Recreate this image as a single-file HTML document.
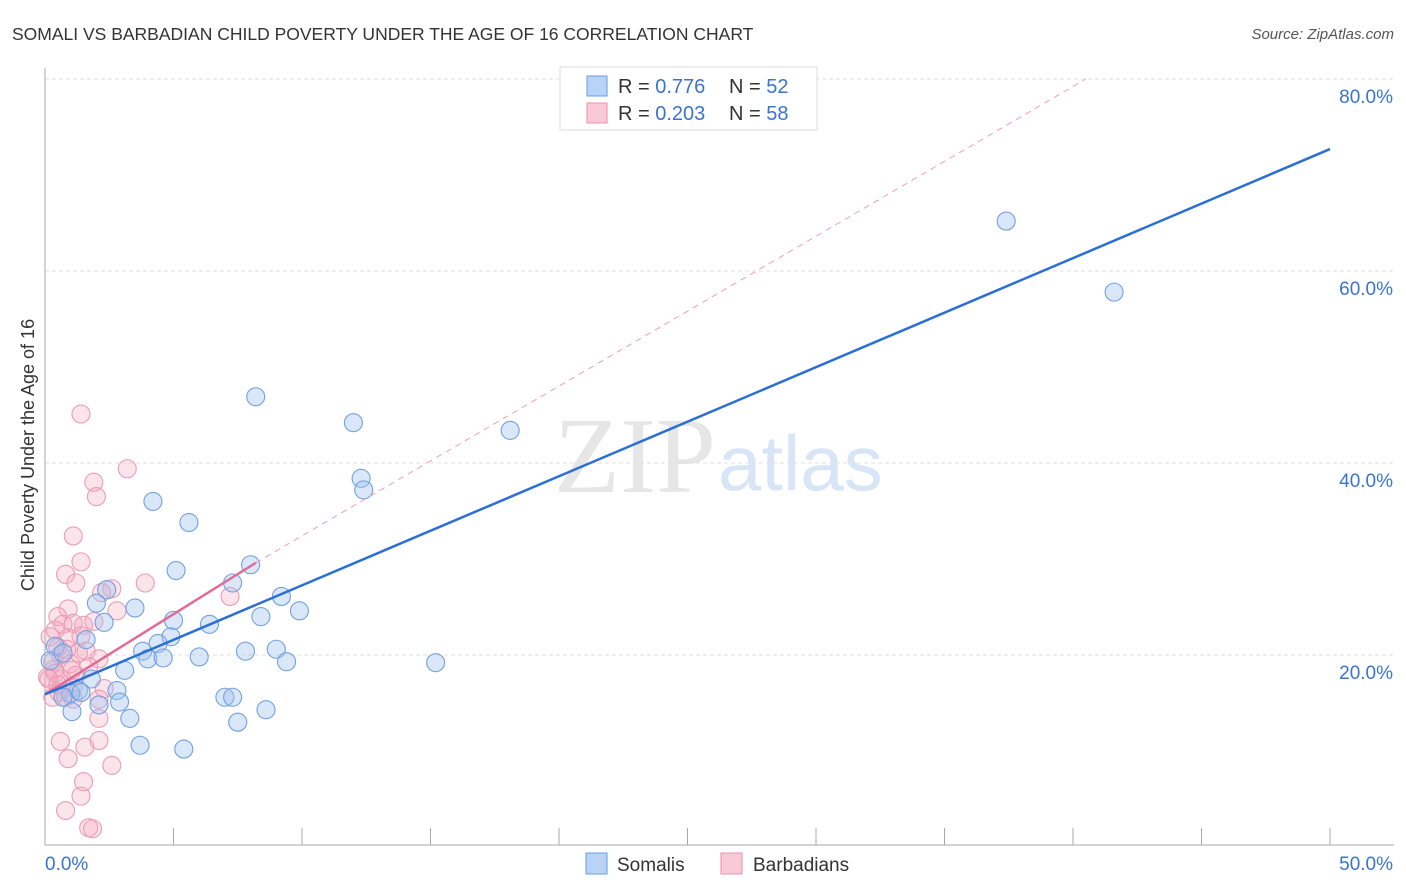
<!DOCTYPE html>
<html><head><meta charset="utf-8"><style>
body{margin:0;background:#fff;font-family:"Liberation Sans",sans-serif}
svg{display:block}
</style></head><body>
<svg id="chart" width="1406" height="892">
<text x="12" y="40" font-size="17.5" fill="#333">SOMALI VS BARBADIAN CHILD POVERTY UNDER THE AGE OF 16 CORRELATION CHART</text>
<text x="1394" y="39" font-size="15" fill="#555" font-style="italic" text-anchor="end">Source: ZipAtlas.com</text>
<text x="716" y="492" font-size="108" fill="#e6e6e6" text-anchor="end" font-family="Liberation Serif,serif">ZIP</text>
<text x="718" y="490" font-size="78" fill="#d8e5f6">atlas</text>
<g id="grid"></g>
<g id="axes"></g>
<g id="pts"></g>
<g id="lines"></g>
<text transform="translate(34,455) rotate(-90)" font-size="18" fill="#333" text-anchor="middle">Child Poverty Under the Age of 16</text>
<g>
<rect x="560" y="67" width="257" height="63" fill="#fff" stroke="#ddd"/>
<rect x="587" y="76" width="20" height="20" fill="#b8d3f5" stroke="#6a9be0"/>
<text x="618" y="93" font-size="20" fill="#333">R = <tspan fill="#3a73d0">0.776</tspan><tspan x="729">N = </tspan><tspan fill="#3a73d0">52</tspan></text>
<rect x="587" y="103" width="20" height="20" fill="#f9c9d6" stroke="#e890aa"/>
<text x="618" y="120" font-size="20" fill="#333">R = <tspan fill="#3a73d0">0.203</tspan><tspan x="729">N = </tspan><tspan fill="#3a73d0">58</tspan></text>
</g>
<g>
<rect x="586" y="853" width="21" height="21" fill="#b8d3f5" stroke="#6a9be0"/>
<text x="617" y="871" font-size="19" fill="#333">Somalis</text>
<rect x="721" y="853" width="21" height="21" fill="#f9c9d6" stroke="#e890aa"/>
<text x="753" y="871" font-size="19" fill="#333">Barbadians</text>
</g>
</svg>
<script>
const blueX=[37.4,41.6,8.2,12.0,18.1,12.3,12.4,4.2,5.6,5.1,8.0,7.3,2.4,2.0,3.5,9.2,9.9,8.4,5.0,6.4,2.3,1.6,4.9,4.4,3.8,4.0,4.6,6.0,7.8,9.0,9.4,15.2,3.1,1.8,1.3,1.0,0.7,2.8,7.0,7.3,2.1,2.9,1.05,8.6,3.3,7.5,3.7,5.4,0.4,0.2,0.7,1.4];
const blueY=[65.2,57.8,46.9,44.2,43.4,38.4,37.2,36.0,33.8,28.8,29.4,27.5,26.8,25.4,24.9,26.1,24.6,24.0,23.6,23.2,23.4,21.6,21.9,21.2,20.4,19.6,19.7,19.8,20.4,20.6,19.3,19.2,18.4,17.5,16.3,16.0,15.6,16.3,15.6,15.6,14.8,15.1,14.1,14.3,13.4,13.0,10.6,10.2,20.9,19.4,20.2,16.1];
const pinkX=[1.4,3.2,1.9,2.0,1.1,1.4,0.8,1.2,3.9,2.6,2.2,7.2,0.9,2.8,0.5,1.1,1.5,1.4,0.7,1.9,0.4,0.2,0.9,0.5,0.6,1.6,0.3,1.0,2.1,1.7,0.35,1.2,0.4,0.15,2.3,1.1,0.55,0.3,0.8,2.1,0.6,2.1,1.55,0.9,2.6,1.5,1.4,0.8,1.7,1.85,0.1,0.65,1.3,0.5,2.1,1.1,0.85,1.05];
const pinkY=[45.1,39.4,38.0,36.5,32.4,29.7,28.4,27.5,27.5,26.9,26.5,26.1,24.8,24.6,24.0,23.3,23.1,22.0,23.2,23.5,22.6,21.9,21.8,20.8,20.0,20.4,19.3,19.1,19.6,18.8,18.5,17.9,18.1,17.5,16.5,16.6,16.1,15.6,15.6,13.4,11.0,11.1,10.4,9.2,8.5,6.8,5.3,3.8,2.0,1.9,17.7,17.5,20.2,16.9,15.4,15.4,20.6,18.4];
const yTicks=[20,40,60,80];
const blueFit=[15.9,72.7];
const pinkFit=[15.9,29.6];
const NS='http://www.w3.org/2000/svg';
const X=v=>45+v*25.7, Y=v=>847-v*9.6;
function mk(t,a,p){const e=document.createElementNS(NS,t);for(const k in a)e.setAttribute(k,a[k]);p.appendChild(e);return e;}
const grid=document.getElementById('grid'),axes=document.getElementById('axes'),pts=document.getElementById('pts'),lines=document.getElementById('lines');
yTicks.forEach(t=>{
 const l=mk('line',{x1:45,x2:1394,y1:Y(t),y2:Y(t),stroke:'#e2e2e2','stroke-dasharray':'4,3'},grid);
 
 
 const tx=mk('text',{x:1393,y:Y(t)+24,'font-size':19,fill:'#3a73d0','text-anchor':'end'},grid);
 tx.textContent=t.toFixed(1)+'%';
 
 
});
mk('line',{x1:45,x2:45,y1:68,y2:845,stroke:'#aaa'},axes);
mk('line',{x1:45,x2:1394,y1:845,y2:845,stroke:'#aaa'},axes);
for(let i=1;i<=10;i++){const t=mk('line',{x1:X(i*5),x2:X(i*5),y1:828,y2:845,stroke:'#aaa'},axes);}
[['0.0%',45,'start'],['50.0%',1393,'end']].forEach(a=>{const t=mk('text',{x:a[1],y:870,'font-size':19,fill:'#3a73d0','text-anchor':a[2]},axes);t.textContent=a[0];});
pinkX.forEach((x,i)=>{const c=mk('circle',{cx:X(x),cy:Y(pinkY[i]),r:9,fill:'rgba(245,165,190,0.3)',stroke:'#eb9cb4','stroke-width':1.1},pts);});
blueX.forEach((x,i)=>{const c=mk('circle',{cx:X(x),cy:Y(blueY[i]),r:9,fill:'rgba(160,195,240,0.4)',stroke:'#72a0e2','stroke-width':1.1},pts);});
const pd=mk('line',{x1:X(8.2),y1:Y(pinkFit[1]),x2:X(40.5),y2:Y(80),stroke:'#eaa0b5','stroke-dasharray':'6,5','stroke-width':1},lines);

const ps=mk('line',{x1:X(0),y1:Y(pinkFit[0]),x2:X(8.2),y2:Y(pinkFit[1]),stroke:'#e36a92','stroke-width':2.5},lines);

const bl=mk('line',{x1:X(0),y1:Y(blueFit[0]),x2:X(50),y2:Y(blueFit[1]),stroke:'#2a6fd6','stroke-width':2.5},lines);

</script>
</body></html>
